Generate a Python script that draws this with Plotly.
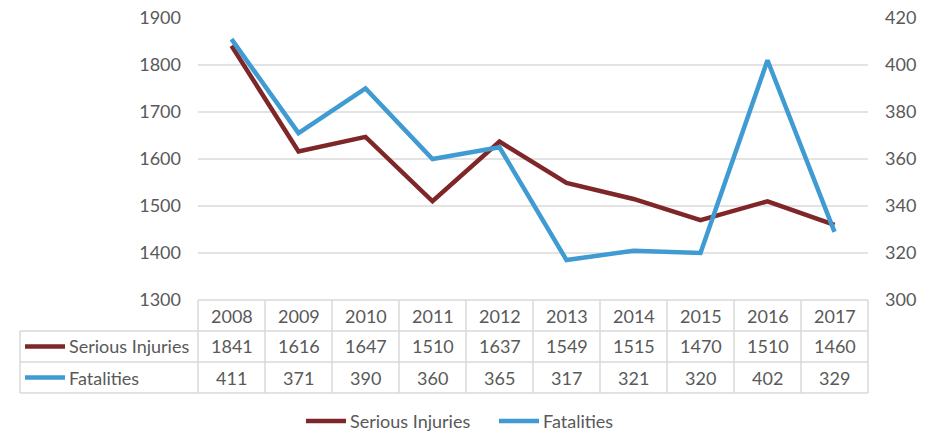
import plotly.graph_objects as go

years = ["2008", "2009", "2010", "2011", "2012", "2013", "2014", "2015", "2016", "2017"]
serious_injuries = [1841, 1616, 1647, 1510, 1637, 1549, 1515, 1470, 1510, 1460]
fatalities = [411, 371, 390, 360, 365, 317, 321, 320, 402, 329]
series_names = ["Serious Injuries", "Fatalities"]
series_colors = ["#7F2629", "#3F9BD2"]

W, H = 930, 432
L, R, T, B = 198, 868, 18, 300
FONT = "Lato"
FS = 18
TXT = "#595959"
GRID = "#D9D9D9"

def px_x(px):
    return (px - L) / (R - L)

def px_y(py):
    return (B - py) / (B - T)

fig = go.Figure()
fig.add_trace(go.Scatter(x=list(range(len(years))), y=serious_injuries, name=series_names[0],
                         mode="lines", line=dict(color=series_colors[0], width=4.5), yaxis="y"))
fig.add_trace(go.Scatter(x=list(range(len(years))), y=fatalities, name=series_names[1],
                         mode="lines", line=dict(color=series_colors[1], width=4.5), yaxis="y2"))

shapes = []
annotations = []
n = len(years)
colw = (R - L) / n
row_h = 31
table_bottom = B + 3 * row_h
tbl_left = 20

# horizontal borders
shapes.append(dict(type="line", xref="paper", yref="paper", x0=px_x(L), x1=px_x(R),
                   y0=px_y(B), y1=px_y(B), line=dict(color=GRID, width=1.5)))
for yy in [B + row_h, B + 2 * row_h, table_bottom]:
    shapes.append(dict(type="line", xref="paper", yref="paper", x0=px_x(tbl_left), x1=px_x(R),
                       y0=px_y(yy), y1=px_y(yy), line=dict(color=GRID, width=1.5)))
# vertical borders
for i in range(n + 1):
    xx = L + i * colw
    shapes.append(dict(type="line", xref="paper", yref="paper", x0=px_x(xx), x1=px_x(xx),
                       y0=px_y(B), y1=px_y(table_bottom), line=dict(color=GRID, width=1.5)))
shapes.append(dict(type="line", xref="paper", yref="paper", x0=px_x(tbl_left), x1=px_x(tbl_left),
                   y0=px_y(B + row_h), y1=px_y(table_bottom), line=dict(color=GRID, width=1.5)))

# cells
for i, yr in enumerate(years):
    cx = L + (i + 0.5) * colw
    annotations.append(dict(text=yr, xref="paper", yref="paper", x=px_x(cx), y=px_y(B + row_h / 2),
                            showarrow=False, xanchor="center", yanchor="middle"))
    annotations.append(dict(text=str(serious_injuries[i]), xref="paper", yref="paper", x=px_x(cx),
                            y=px_y(B + 1.5 * row_h), showarrow=False, xanchor="center", yanchor="middle"))
    annotations.append(dict(text=str(fatalities[i]), xref="paper", yref="paper", x=px_x(cx),
                            y=px_y(B + 2.5 * row_h), showarrow=False, xanchor="center", yanchor="middle"))

# row labels with line keys
for k in range(2):
    cy = B + (1.5 + k) * row_h
    shapes.append(dict(type="line", xref="paper", yref="paper", x0=px_x(25), x1=px_x(65),
                       y0=px_y(cy), y1=px_y(cy), line=dict(color=series_colors[k], width=4.5)))
    annotations.append(dict(text=series_names[k], xref="paper", yref="paper", x=px_x(67), y=px_y(cy),
                            showarrow=False, xanchor="left", yanchor="middle"))

# bottom legend
leg_y = 421
leg_x = [304, 497]
for k in range(2):
    shapes.append(dict(type="line", xref="paper", yref="paper", x0=px_x(leg_x[k] + 2), x1=px_x(leg_x[k] + 42),
                       y0=px_y(leg_y), y1=px_y(leg_y), line=dict(color=series_colors[k], width=4.5)))
    annotations.append(dict(text=series_names[k], xref="paper", yref="paper", x=px_x(leg_x[k] + 44),
                            y=px_y(leg_y), showarrow=False, xanchor="left", yanchor="middle"))

fig.update_layout(
    width=W, height=H,
    margin=dict(l=L, r=W - R, t=T, b=H - B, pad=0, autoexpand=False),
    plot_bgcolor="white", paper_bgcolor="white",
    font=dict(family=FONT, size=FS, color=TXT),
    showlegend=False,
    xaxis=dict(range=[-0.5, n - 0.5], showticklabels=False, showgrid=False, zeroline=False,
               showline=False, fixedrange=True),
    yaxis=dict(range=[1300, 1900], dtick=100, tick0=1300, showgrid=True, gridcolor="#E3E3E3",
               gridwidth=1.5, zeroline=False, showline=False, ticklabelstandoff=16,
               automargin=False, tickfont=dict(family=FONT, size=FS, color=TXT)),
    yaxis2=dict(range=[300, 420], dtick=20, tick0=300, overlaying="y", side="right",
                showgrid=False, zeroline=False, showline=False, ticklabelstandoff=16,
                automargin=False, tickfont=dict(family=FONT, size=FS, color=TXT)),
    shapes=shapes,
    annotations=annotations,
)

fig.write_html("out.html", config={"displayModeBar": False},
               post_script="document.body.style.margin='0';document.body.style.overflow='hidden';")
